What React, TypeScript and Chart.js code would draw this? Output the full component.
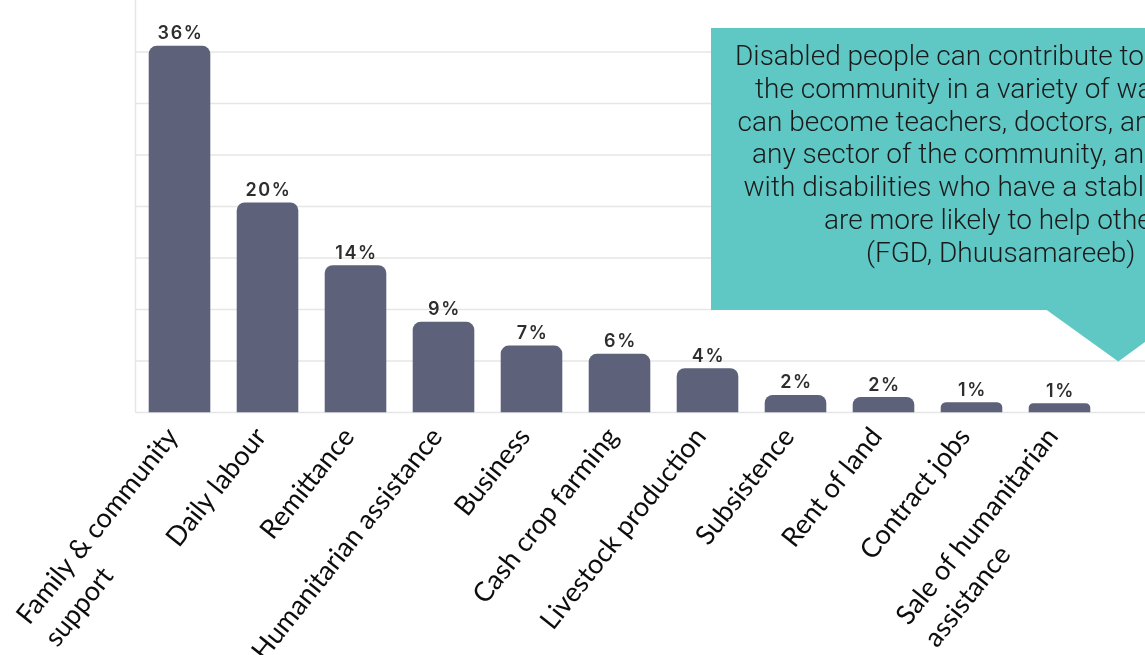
import React, { useEffect, useRef } from "react";
import { Chart, registerables } from "chart.js";

Chart.register(...registerables);

// ---- data ----
const categories: string[][] = [
  ["Family & community", "support"],
  ["Daily labour"],
  ["Remittance"],
  ["Humanitarian assistance"],
  ["Business"],
  ["Cash crop farming"],
  ["Livestock production"],
  ["Subsistence"],
  ["Rent of land"],
  ["Contract jobs"],
  ["Sale of humanitarian", "assistance"],
];
const shares: number[] = [35.6, 20.4, 14.3, 8.8, 6.5, 5.7, 4.3, 1.7, 1.5, 1.0, 0.9];
const valueLabels: string[] = ["36%", "20%", "14%", "9%", "7%", "6%", "4%", "2%", "2%", "1%", "1%"];
const gridValues: number[] = [0, 5, 10, 15, 20, 25, 30, 35];
const calloutLines: string[] = [
  "Disabled people can contribute to",
  "the community in a variety of ways. They",
  "can become teachers, doctors, and work in",
  "any sector of the community, and people",
  "with disabilities who have a stable income",
  "are more likely to help others.",
  "(FGD, Dhuusamareeb)",
];
const calloutLineStarts: number[] = [735, 755, 737.5, 752, 743.5, 824, 866];

const W = 1145;
const H = 655;
const BAR_COLOR = "#5d627a";
const GRID_COLOR = "#e6e6e6";
const TEAL = "#5fc7c4";
const ANGLE = (51.5 * Math.PI) / 180;

export default function App() {
  const ref = useRef<HTMLCanvasElement>(null);

  useEffect(() => {
    document.body.style.margin = "0";
    const canvas = ref.current!;

    const backdrop = {
      id: "backdrop",
      beforeDatasetsDraw(chart: any) {
        const ctx = chart.ctx;
        const y = chart.scales.y;
        const area = chart.chartArea;
        ctx.save();
        ctx.strokeStyle = GRID_COLOR;
        ctx.lineWidth = 1.5;
        gridValues.forEach((v) => {
          const py = y.getPixelForValue(v);
          ctx.beginPath();
          ctx.moveTo(area.left, py);
          ctx.lineTo(W, py);
          ctx.stroke();
        });
        ctx.beginPath();
        ctx.moveTo(area.left, 0);
        ctx.lineTo(area.left, area.bottom);
        ctx.stroke();
        ctx.restore();
      },
    };

    const overlay = {
      id: "overlay",
      afterDatasetsDraw(chart: any) {
        const ctx = chart.ctx;
        const meta = chart.getDatasetMeta(0);
        const xs = chart.scales.x;
        ctx.save();
        // value labels
        ctx.fillStyle = "#2e2e2e";
        ctx.font = "600 18px Inter";
        (ctx as any).letterSpacing = "1.6px";
        ctx.textAlign = "center";
        ctx.textBaseline = "alphabetic";
        meta.data.forEach((bar: any, i: number) => {
          ctx.fillText(valueLabels[i], bar.x + 1, bar.y - 6.5);
        });
        (ctx as any).letterSpacing = "0px";

        // category labels (rotated, left-aligned lines)
        ctx.fillStyle = "#0d0d0d";
        ctx.font = "400 27px Lato";
        ctx.textAlign = "left";
        categories.forEach((lines, i) => {
          const tx = xs.getPixelForValue(i);
          const widths = lines.map((l) => ctx.measureText(l).width);
          const wmax = Math.max(...widths);
          ctx.save();
          ctx.translate(tx, 437);
          ctx.rotate(-ANGLE);
          lines.forEach((l, j) => {
            ctx.fillText(l, -wmax, j * 36);
          });
          ctx.restore();
        });

        // callout
        ctx.fillStyle = TEAL;
        ctx.beginPath();
        ctx.moveTo(711, 28);
        ctx.lineTo(1220, 28);
        ctx.lineTo(1220, 310);
        ctx.lineTo(1189, 310);
        ctx.lineTo(1118.3, 361.5);
        ctx.lineTo(1046.7, 310);
        ctx.lineTo(711, 310);
        ctx.closePath();
        ctx.fill();

        ctx.fillStyle = "#1a1a1a";
        ctx.font = "300 28px Roboto";
        ctx.textAlign = "left";
        calloutLines.forEach((l, i) => {
          ctx.fillText(l, calloutLineStarts[i], 65 + i * 32.8);
        });
        ctx.restore();
      },
    };

    const chart = new Chart(canvas, {
      type: "bar",
      data: {
        labels: categories,
        datasets: [
          {
            data: shares,
            backgroundColor: BAR_COLOR,
            borderRadius: { topLeft: 8, topRight: 8, bottomLeft: 0, bottomRight: 0 },
            borderSkipped: "bottom",
            barPercentage: 0.7,
            categoryPercentage: 1,
          },
        ],
      },
      options: {
        responsive: false,
        animation: false,
        devicePixelRatio: 1,
        layout: { padding: { left: 135.5, right: 41.5, top: 0.5, bottom: 242.5 } },
        plugins: { legend: { display: false }, tooltip: { enabled: false } },
        scales: {
          x: { display: false },
          y: { display: false, min: 0, max: 40 },
        },
      },
      plugins: [backdrop, overlay],
    } as any);

    return () => chart.destroy();
  }, []);

  return (
    <div style={{ width: W, height: H, overflow: "hidden", background: "#ffffff" }}>
      <canvas ref={ref} width={W} height={H} style={{ display: "block" }} />
    </div>
  );
}
